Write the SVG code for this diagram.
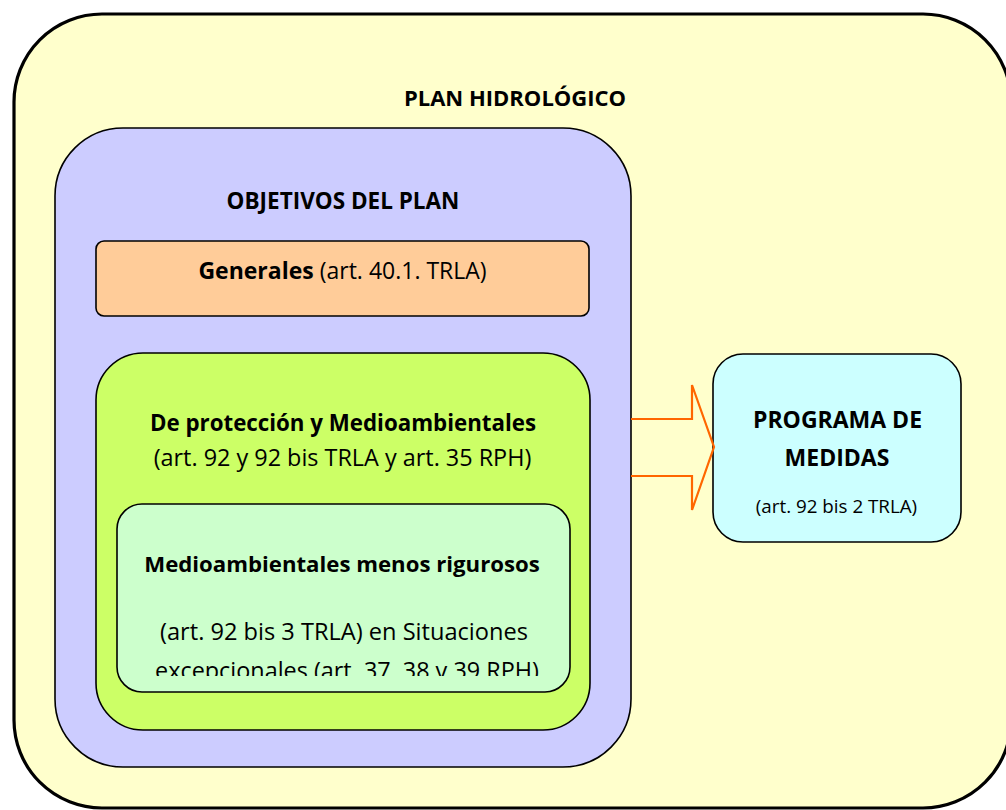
<svg xmlns="http://www.w3.org/2000/svg" width="1006" height="810" viewBox="0 0 1006 810">
<defs>
<style>
.box{stroke:#000;stroke-width:1.6}
.t{font-family:"Open Sans","Noto Sans","Liberation Sans",sans-serif;fill:#000;text-anchor:middle}
.b{font-weight:bold}
</style>
<clipPath id="clipLG"><rect x="117" y="504" width="453" height="172"/></clipPath>
</defs>
<rect width="1006" height="810" fill="#fff"/>
<g id="plan">
<rect x="14" y="14" width="997" height="794" rx="88" ry="88" fill="#FFFFCC" stroke="#000" stroke-width="3.2"/>
<text class="t b" x="515" y="106" font-size="22">PLAN HIDROLÓGICO</text>
</g>
<g id="objetivos">
<rect class="box" x="55" y="128" width="576" height="639" rx="68" ry="68" fill="#CCCCFF"/>
<text class="t b" x="343" y="209" font-size="22.5">OBJETIVOS DEL PLAN</text>
</g>
<g id="generales">
<rect class="box" x="96" y="241" width="493" height="75" rx="8" ry="8" fill="#FFCC99"/>
<text class="t" x="342.5" y="279" font-size="23">
<tspan class="b">Generales</tspan> (art. 40.1. TRLA)</text>
</g>
<g id="proteccion">
<rect class="box" x="96" y="353" width="494" height="377" rx="47" ry="47" fill="#CCFF66"/>
<text class="t b" x="343" y="431" font-size="22.3">De protección y Medioambientales</text>
<text class="t" x="342.5" y="466" font-size="23.4">(art. 92 y 92 bis TRLA y art. 35 RPH)</text>
</g>
<g id="menos-rigurosos">
<rect class="box" x="117" y="504" width="453" height="188" rx="25" ry="25" fill="#CCFFCC"/>
<text class="t b" x="342" y="572" font-size="22.2">Medioambientales menos rigurosos</text>
<text class="t" x="344" y="640" font-size="23.6">(art. 92 bis 3 TRLA) en Situaciones</text>
<text class="t" x="347" y="679" font-size="23.4" clip-path="url(#clipLG)">excepcionales (art. 37, 38 y 39 RPH)</text>
</g>
<g id="programa">
<rect class="box" x="713" y="354" width="248" height="188" rx="30" ry="30" fill="#CCFFFF"/>
<text class="t b" x="837.5" y="428" font-size="23">PROGRAMA DE</text>
<text class="t b" x="837" y="466" font-size="23">MEDIDAS</text>
<text class="t" x="836.5" y="513" font-size="18.8">(art. 92 bis 2 TRLA)</text>
</g>
<g id="connectors">
<path d="M631,419 H692 V385 L714,447 L692,510 V476 H631" fill="none" stroke="#FF6600" stroke-width="2.2" stroke-linejoin="miter"/>
</g>
</svg>
